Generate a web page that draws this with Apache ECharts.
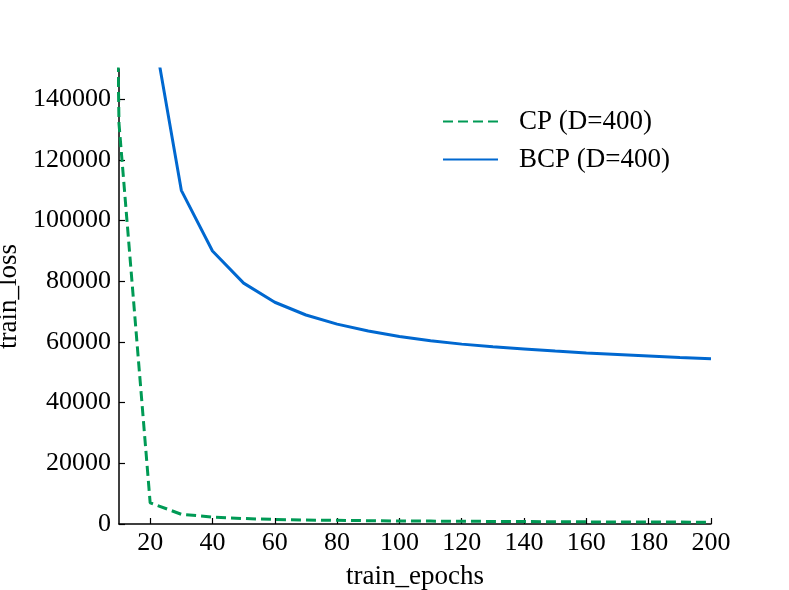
<!DOCTYPE html>
<html>
<head>
<meta charset="utf-8">
<script src="https://cdn.jsdelivr.net/npm/echarts@6/dist/echarts.min.js"></script>
<style>
  html, body { margin: 0; padding: 0; background: #fff; }
  #chart { width: 789px; height: 590px; }
</style>
</head>
<body>
<div id="chart"></div>
<script>
// epochs (0 and 10 sit left of / above the visible window)
const epochs = [0, 10, 20, 30, 40, 50, 60, 70, 80, 90, 100,
  110, 120, 130, 140, 150, 160, 170, 180, 190, 200];
const cpLoss = [800000, 132000, 7000, 3200, 2300, 1800, 1500, 1300, 1200, 1100, 1000,
  950, 900, 850, 800, 750, 700, 680, 650, 620, 600];
const bcpLoss = [600000, 300000, 169000, 110000, 90000, 79400, 73100, 68900, 65900, 63600, 61800,
  60400, 59300, 58400, 57700, 57000, 56400, 55900, 55400, 54900, 54500];
const xTicks = [20, 40, 60, 80, 100, 120, 140, 160, 180, 200];
const yTicks = [0, 20000, 40000, 60000, 80000, 100000, 120000, 140000];

const FONT = '"Liberation Serif", "Times New Roman", serif';

function pairs(xs, ys) {
  return xs.map((x, i) => [x, ys[i]]);
}

let myChart = echarts.init(document.getElementById('chart'));

let option = {
  backgroundColor: '#fff',
  animation: false,
  grid: { left: 119, right: 78, top: 69, bottom: 66, outerBoundsMode: 'none', containLabel: false },
  legend: {
    orient: 'vertical',
    left: 437,
    top: 103,
    itemWidth: 55,
    itemHeight: 14,
    itemGap: 11,
    itemStyle: { opacity: 0 },
    textStyle: { fontFamily: FONT, fontSize: 27, color: '#000', padding: [0, 0, 0, 16] },
    data: ['CP (D=400)', 'BCP (D=400)']
  },
  xAxis: {
    type: 'value',
    min: 10,
    max: 200,
    name: 'train_epochs',
    nameLocation: 'middle',
    nameGap: 39,
    nameTextStyle: { fontFamily: FONT, fontSize: 27, color: '#000' },
    splitLine: { show: false },
    axisLine: { lineStyle: { color: '#000', width: 1.5 } },
    axisTick: { inside: true, length: 6, customValues: xTicks, lineStyle: { color: '#000', width: 1.2 } },
    axisLabel: { customValues: xTicks, formatter: v => String(v), fontFamily: FONT, fontSize: 26, color: '#000', margin: 6 }
  },
  yAxis: {
    type: 'value',
    min: 0,
    max: 150000,
    name: 'train_loss',
    nameLocation: 'middle',
    nameGap: 88,
    nameTextStyle: { fontFamily: FONT, fontSize: 27, color: '#000' },
    splitLine: { show: false },
    axisLine: { lineStyle: { color: '#000', width: 1.5 } },
    axisTick: { inside: true, length: 6, customValues: yTicks, lineStyle: { color: '#000', width: 1.2 } },
    axisLabel: { customValues: yTicks, formatter: v => String(v), fontFamily: FONT, fontSize: 26, color: '#000', margin: 8 }
  },
  series: [
    {
      name: 'CP (D=400)',
      type: 'line',
      symbol: 'none',
      clip: true,
      data: pairs(epochs, cpLoss),
      lineStyle: { color: '#009a55', width: 3, type: [10, 5] },
      itemStyle: { color: '#009a55' }
    },
    {
      name: 'BCP (D=400)',
      type: 'line',
      symbol: 'none',
      clip: true,
      data: pairs(epochs, bcpLoss),
      lineStyle: { color: '#0068d0', width: 3 },
      itemStyle: { color: '#0068d0' }
    }
  ]
};

myChart.setOption(option);
</script>
</body>
</html>
